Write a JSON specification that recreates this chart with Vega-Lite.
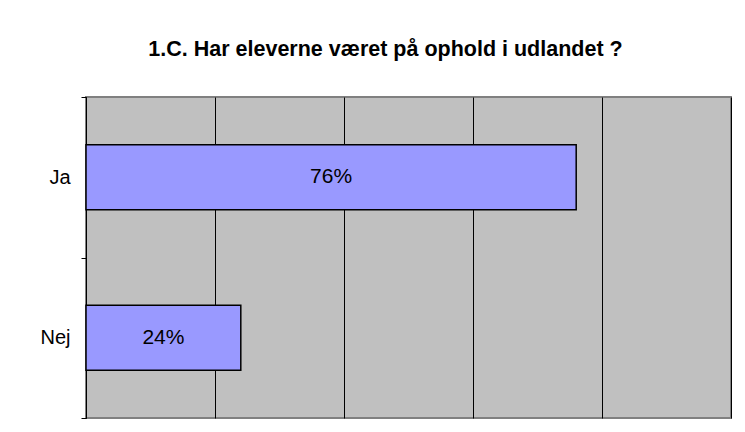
{
  "$schema": "https://vega.github.io/schema/vega-lite/v6.json",
  "width": 645,
  "height": 321,
  "autosize": {"type": "none"},
  "padding": {"left": 86, "top": 97, "right": 14, "bottom": 14},
  "background": "white",
  "title": {
    "text": "1.C. Har eleverne været på ophold i udlandet ?",
    "font": "Liberation Sans",
    "fontSize": 21.5,
    "fontWeight": "bold",
    "color": "black",
    "anchor": "middle",
    "frame": "group",
    "offset": 27,
    "dx": -23
  },
  "data": {"values": [{"svar": "Ja", "andel": 0.76}, {"svar": "Nej", "andel": 0.24}]},
  "encoding": {
    "y": {
      "field": "svar",
      "type": "nominal",
      "sort": null,
      "scale": {"paddingInner": 0, "paddingOuter": 0},
      "axis": {
        "title": null,
        "domainColor": "black",
        "domainWidth": 1,
        "tickBand": "extent",
        "tickColor": "black",
        "tickSize": 5,
        "labelFont": "Liberation Sans",
        "labelFontSize": 20,
        "labelColor": "black",
        "labelPadding": 11
      }
    }
  },
  "layer": [
    {
      "mark": {"type": "bar", "fill": "#9999FF", "stroke": "black", "strokeWidth": 1.5, "height": {"band": 0.405}},
      "encoding": {
        "x": {
          "field": "andel",
          "type": "quantitative",
          "scale": {"domain": [0, 1]},
          "axis": {
            "values": [0, 0.2, 0.4, 0.6, 0.8, 1],
            "grid": true,
            "gridColor": "black",
            "gridOpacity": 1,
            "gridWidth": 1,
            "labels": false,
            "ticks": false,
            "domain": false,
            "title": null
          }
        }
      }
    },
    {
      "mark": {"type": "text", "font": "Liberation Sans", "fontSize": 21, "color": "black", "align": "center", "baseline": "middle"},
      "encoding": {
        "x": {"field": "andel", "type": "quantitative", "scale": {"domain": [0, 2]}, "axis": null},
        "text": {"field": "andel", "type": "quantitative", "format": ".0%"}
      }
    }
  ],
  "resolve": {"scale": {"x": "independent"}},
  "config": {
    "view": {"fill": "#C0C0C0", "stroke": "#808080", "strokeWidth": 2}
  }
}
